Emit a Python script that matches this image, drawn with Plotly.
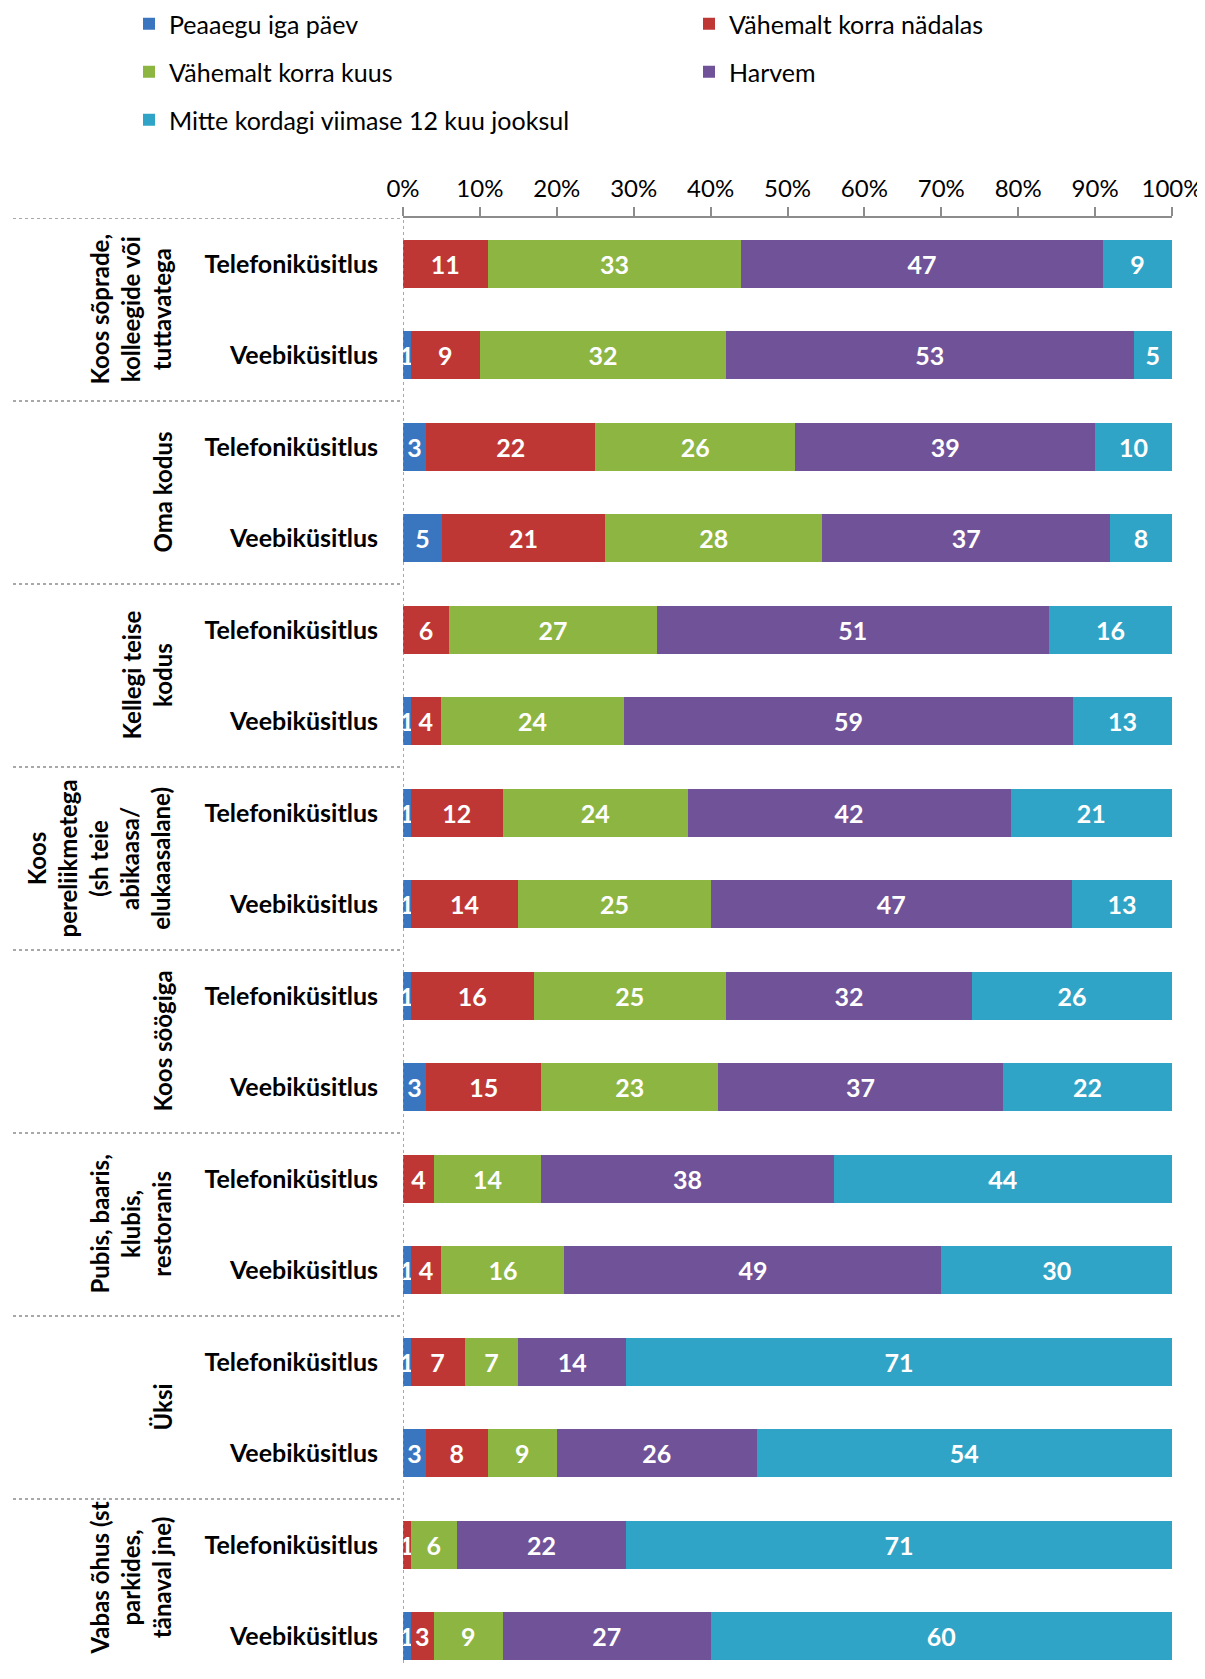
import plotly.graph_objects as go

# groups (top to bottom) and survey methods
groups = [
    "Koos sõprade,<br>kolleegide või<br>tuttavatega",
    "Oma kodus",
    "Kellegi teise<br>kodus",
    "Koos<br>pereliikmetega<br>(sh teie<br>abikaasa/<br>elukaasalane)",
    "Koos söögiga",
    "Pubis, baaris,<br>klubis,<br>restoranis",
    "Üksi",
    "Vabas õhus (st<br>parkides,<br>tänaval jne)",
]
methods = ["Telefoniküsitlus", "Veebiküsitlus"]

series_names = [
    "Peaaegu iga päev",
    "Vähemalt korra nädalas",
    "Vähemalt korra kuus",
    "Harvem",
    "Mitte kordagi viimase 12 kuu jooksul",
]
colors = ["#3a76c0", "#be3735", "#8db542", "#6f5298", "#30a4c6"]

# values per bar, order: group1 Tel, group1 Veeb, group2 Tel, ...
peaaegu = [0, 1, 3, 5, 0, 1, 1, 1, 1, 3, 0, 1, 1, 3, 0, 1]
nadalas = [11, 9, 22, 21, 6, 4, 12, 14, 16, 15, 4, 4, 7, 8, 1, 3]
kuus = [33, 32, 26, 28, 27, 24, 24, 25, 25, 23, 14, 16, 7, 9, 6, 9]
harvem = [47, 53, 39, 37, 51, 59, 42, 47, 32, 37, 38, 49, 14, 26, 22, 27]
mitte = [9, 5, 10, 8, 16, 13, 21, 13, 26, 22, 44, 30, 71, 54, 71, 60]
series_values = [peaaegu, nadalas, kuus, harvem, mitte]

# page has an 8px body margin; keep the figure inside the window (no scrollbars)
OFF = 8
W, H = 1205 - OFF, 1679 - 2 * OFF - 8
FONT = "Lato"
L, R, T, B = 403 - OFF, W - (1172 - OFF), 218 - OFF, 0
PW = W - L - R
PH = H - T - B
CAT_PX = 91.5  # px per category in the reference
y_bottom = -0.5 + PH / CAT_PX

# legend placement (page px): (text left x, row center y)
legend_pos = [(169, 24), (729, 24), (169, 72), (729, 72), (169, 120)]

keys = [f"{gi}|{m}" for gi in range(len(groups)) for m in methods]
ticktext = [m for _ in groups for m in methods]

fig = go.Figure()
for i, (name, vals) in enumerate(zip(series_names, series_values)):
    lg = "legend" if i == 0 else f"legend{i + 1}"
    fig.add_trace(go.Bar(
        y=keys, x=vals, orientation="h", name=name,
        marker=dict(color=colors[i], line=dict(width=0)),
        text=[str(v) if v > 0 else "" for v in vals],
        textposition="inside", insidetextanchor="middle", textangle=0,
        textfont=dict(family=FONT, size=25, color="white", weight="bold"),
        legend=lg, showlegend=True, hoverinfo="x+name",
    ))

legends = {}
for i, (tx, ty) in enumerate(legend_pos):
    lg = "legend" if i == 0 else f"legend{i + 1}"
    legends[lg] = dict(
        x=(tx - OFF - 40 - L) / PW, y=1 + (T - (ty - OFF)) / PH,
        xanchor="left", yanchor="middle", bgcolor="rgba(0,0,0,0)", visible=True,
        font=dict(family=FONT, size=25, color="black"), borderwidth=0,
    )

shapes = []
# dotted vertical axis line
shapes.append(dict(type="line", xref="x", yref="paper", x0=0, x1=0, y0=0, y1=1,
                   line=dict(color="#8c8c8c", width=1.5, dash="dot")))
# dotted group dividers
for gi in range(len(groups)):
    yv = gi * 2 - 0.5
    shapes.append(dict(type="line", xref="paper", yref="y", x0=(13 - OFF - L) / PW, x1=0,
                       y0=yv, y1=yv, line=dict(color="#8c8c8c", width=1.5, dash="dot")))

annotations = []
right_line_x = 162 - OFF
line_gap = 32
for gi, g in enumerate(groups):
    n = g.count("<br>") + 1
    cx = right_line_x - (n - 1) * line_gap / 2
    annotations.append(dict(
        text=g, xref="paper", yref="y", x=(cx - L) / PW, y=gi * 2 + 0.5,
        textangle=-90, showarrow=False, xanchor="center", yanchor="middle",
        yshift=12 if gi == len(groups) - 1 else 0,  # keep the last label inside the page
        font=dict(family=FONT, size=24, color="black", weight="bold"),
    ))

fig.update_layout(
    width=W, height=H, barmode="stack", barnorm="percent", bargap=0.475,
    margin=dict(l=L, r=R, t=T, b=B, autoexpand=False),
    showlegend=True,
    plot_bgcolor="white", paper_bgcolor="white",
    font=dict(family=FONT, color="black"),
    uniformtext=dict(minsize=25, mode="show"),
    xaxis=dict(side="top", range=[0, 100], dtick=10, ticksuffix="%", showgrid=False,
               zeroline=False, showline=True, linecolor="#8c8c8c", linewidth=2,
               ticks="outside", ticklen=9, tickcolor="#8c8c8c", tickwidth=1.5,
               ticklabeloverflow="allow",
               tickfont=dict(family=FONT, size=24, color="black"), fixedrange=True),
    yaxis=dict(type="category", range=[y_bottom, -0.5], tickmode="array", tickvals=keys,
               ticktext=ticktext, showgrid=False, zeroline=False, showline=False,
               ticks="", ticklabelstandoff=24,
               tickfont=dict(family=FONT, size=25, color="black", weight="bold")),
    shapes=shapes, annotations=annotations,
    **legends,
)

fig.write_html("out.html")
